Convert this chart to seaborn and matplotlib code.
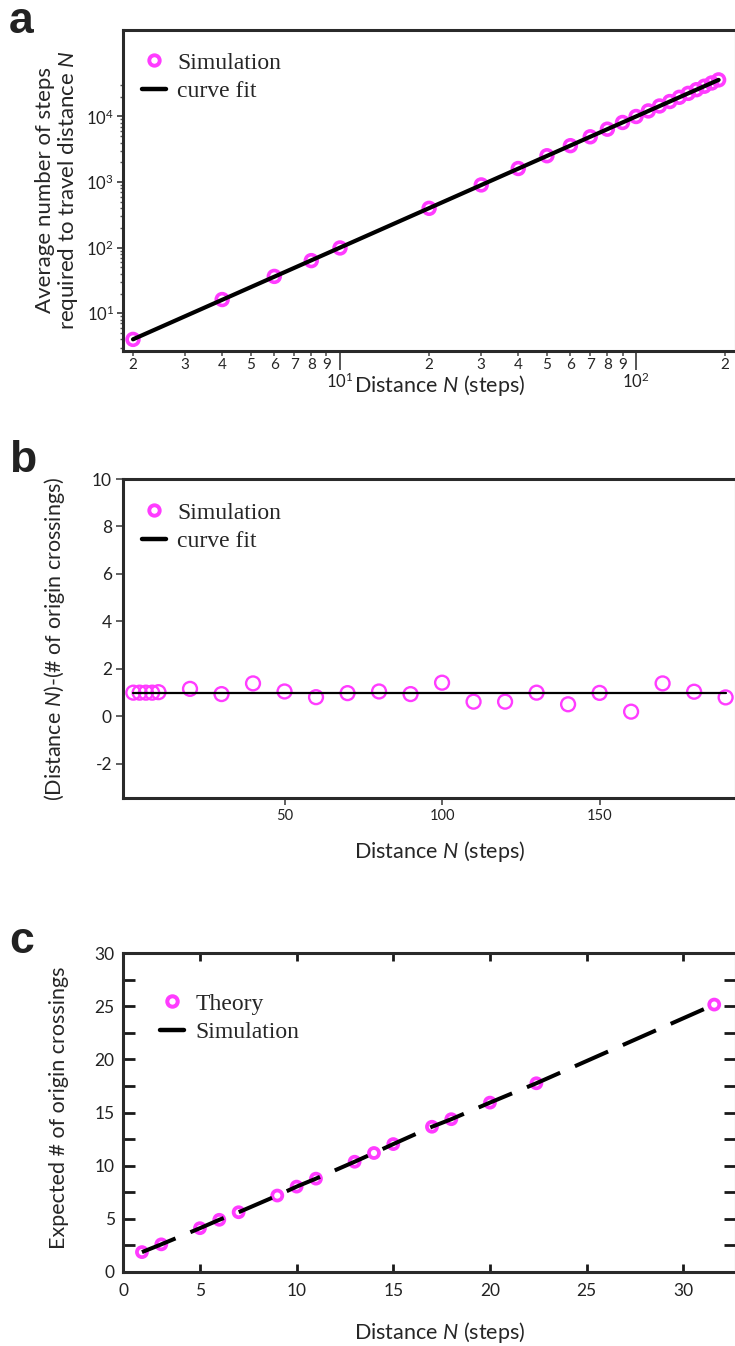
import numpy as np
import pandas as pd
import matplotlib
matplotlib.use("Agg")
import matplotlib.pyplot as plt
import seaborn as sns
from matplotlib import ticker
from matplotlib.lines import Line2D

# ---------------------------------------------------------------- data
# (a) mean number of steps needed to first reach distance N
dist_a = [2, 4, 6, 8, 10, 20, 30, 40, 50, 60, 70, 80, 90, 100,
          110, 120, 130, 140, 150, 160, 170, 180, 190]
mean_steps = [4.0, 16.2, 36.5, 63.5, 99.0, 398, 905, 1610, 2520, 3590, 4900,
              6400, 8100, 9990, 12150, 14450, 16900, 19600, 22500, 25600,
              28900, 32400, 36100]

# (b) distance minus number of origin crossings
dist_b = dist_a
residual = [1.00, 1.00, 1.00, 1.00, 1.02, 1.16, 0.94, 1.39, 1.05, 0.81, 0.98,
            1.05, 0.94, 1.42, 0.62, 0.62, 1.00, 0.51, 0.99, 0.20, 1.39, 1.04,
            0.80]
residual_fit = 1.0

# (c) expected number of origin crossings
dist_c = [2, 3, 5, 6, 7, 9, 10, 11, 13, 14, 15, 17, 18, 20, 22.4, 31.6]
theory = [1.87, 2.60, 4.12, 4.91, 5.62, 7.19, 8.03, 8.78, 10.37, 11.19,
          12.03, 13.66, 14.37, 15.93, 17.75, 25.15]
simulation = [1.87, 2.60, 4.12, 4.91, 5.62, 7.19, 8.03, 8.78, 10.37, 11.19,
              12.03, 13.66, 14.37, 15.93, 17.75, 25.15]

# ---------------------------------------------------------------- style
sns.set_theme(style="ticks")
SANS = "Lato"
plt.rcParams["font.family"] = [SANS, "DejaVu Sans"]
plt.rcParams["mathtext.fontset"] = "custom"
plt.rcParams["mathtext.rm"] = SANS
plt.rcParams["mathtext.it"] = SANS + ":italic"
plt.rcParams["axes.linewidth"] = 2.2
plt.rcParams["axes.edgecolor"] = "#2a2a2a"

MAGENTA = "#ff3cff"
W, H = 735, 1346
fig = plt.figure(figsize=(W / 100, H / 100), dpi=100)


def box(left, top, right, bottom):
    return [left / W, 1 - bottom / H, (right - left) / W, (bottom - top) / H]


ax_a = fig.add_axes(box(123, 30, 735.7, 350.7))
ax_b = fig.add_axes(box(123, 479, 735.7, 798.3))
ax_c = fig.add_axes(box(123, 953, 735.7, 1272))

LABEL_FS = 15.5
XLABEL = r"Distance $\mathit{N}$ (steps)"


def legend(ax, handles, labels, left, top):
    ax.legend(handles, labels, loc="upper left",
              bbox_to_anchor=(left / W, 1 - top / H),
              bbox_transform=fig.transFigure, frameon=False, borderpad=0,
              borderaxespad=0, handlelength=1.0, handletextpad=0.5,
              labelspacing=0.3,
              prop={"family": "Liberation Serif", "size": 17})


def ring(ms=7.5, mew=2.8):
    return Line2D([], [], ls="none", marker="o", ms=ms, mfc="none",
                  mec=MAGENTA, mew=mew)


# ---------------------------------------------------------------- (a)
ax_a.set_xscale("log")
ax_a.set_yscale("log")
sns.scatterplot(x=dist_a, y=mean_steps, ax=ax_a, s=72, marker="o",
                facecolor="none", edgecolor=MAGENTA, linewidth=2.6, zorder=2)
slope, icpt = np.polyfit(np.log10(dist_a), np.log10(mean_steps), 1)
fit_a = pd.DataFrame({"N": dist_a,
                      "fit": 10 ** (icpt + slope * np.log10(dist_a))})
sns.lineplot(data=fit_a, x="N", y="fit", ax=ax_a, color="black",
             linewidth=3.0, zorder=3)
ax_a.set_xlim(1.85, 217)
ax_a.set_ylim(2.69, 2.08e5)

pow_fmt = ticker.FuncFormatter(
    lambda v, p: r"$\mathregular{10^{%d}}$" % int(round(np.log10(v))))
ax_a.xaxis.set_major_locator(ticker.FixedLocator([10, 100]))
ax_a.xaxis.set_major_formatter(pow_fmt)
minor_x = [2, 3, 4, 5, 6, 7, 8, 9, 20, 30, 40, 50, 60, 70, 80, 90, 200]
ax_a.xaxis.set_minor_locator(ticker.FixedLocator(minor_x))
ax_a.xaxis.set_minor_formatter(ticker.FuncFormatter(
    lambda v, p: str(int(round(v / 10 ** np.floor(np.log10(v) + 1e-9))))))
ax_a.yaxis.set_major_locator(ticker.FixedLocator([10, 100, 1000, 10000]))
ax_a.yaxis.set_major_formatter(pow_fmt)
minor_y = [m * 10 ** k for k in range(0, 5) for m in range(2, 10)
           if 2.69 < m * 10 ** k <= 30000]
ax_a.yaxis.set_minor_locator(ticker.FixedLocator(minor_y))
ax_a.yaxis.set_minor_formatter(ticker.NullFormatter())
ax_a.tick_params(axis="x", which="major", direction="out", length=14,
                 width=1.4, color="#555555", pad=1, labelsize=12)
ax_a.tick_params(axis="x", which="minor", direction="out", length=3.5,
                 width=1.2, color="#555555", pad=2, labelsize=11)
ax_a.tick_params(axis="y", which="major", direction="out", length=4.5,
                 width=1.4, color="#555555", pad=2, labelsize=12)
ax_a.tick_params(axis="y", which="minor", direction="out", length=2.5,
                 width=1.0, color="#555555")
ax_a.set_xlabel(XLABEL, fontsize=LABEL_FS)
ax_a.xaxis.set_label_coords(440 / W, 1 - 373 / H, transform=fig.transFigure)
ax_a.set_ylabel("Average number of steps\n"
                r"required to travel distance $\mathit{N}$",
                fontsize=16, linespacing=1.05)
ax_a.yaxis.set_label_coords(80 / W, 1 - 190 / H, transform=fig.transFigure)
legend(ax_a, [ring(), Line2D([], [], color="black", lw=3.2)],
       ["Simulation", "curve fit"], 142, 52)

# ---------------------------------------------------------------- (b)
sns.scatterplot(x=dist_b, y=residual, ax=ax_b, s=100, marker="o",
                facecolor="none", edgecolor=MAGENTA, linewidth=1.7, zorder=2)
fit_b = pd.DataFrame({"N": [dist_b[0], dist_b[-1]],
                      "fit": [residual_fit, residual_fit]})
sns.lineplot(data=fit_b, x="N", y="fit", ax=ax_b, color="black",
             linewidth=1.6, zorder=3)
ax_b.set_xlim(-1.27, 193.2)
ax_b.set_ylim(-3.45, 10)
ax_b.set_xticks([50, 100, 150])
ax_b.set_yticks([-2, 0, 2, 4, 6, 8, 10])
ax_b.set_yticklabels(["-2", "0", "2", "4", "6", "8", "10"])
ax_b.tick_params(axis="x", direction="out", length=5, width=1.3,
                 color="#555555", pad=3, labelsize=10.5)
ax_b.tick_params(axis="y", direction="out", length=5, width=1.3,
                 color="#555555", pad=3, labelsize=12.5)
ax_b.set_xlabel(XLABEL, fontsize=LABEL_FS)
ax_b.xaxis.set_label_coords(440 / W, 1 - 839 / H, transform=fig.transFigure)
ax_b.set_ylabel(r"(Distance $\mathit{N}$)-(# of origin crossings)",
                fontsize=LABEL_FS)
ax_b.yaxis.set_label_coords(67 / W, 1 - 639 / H, transform=fig.transFigure)
legend(ax_b, [ring(), Line2D([], [], color="black", lw=3.2)],
       ["Simulation", "curve fit"], 142, 502)

# ---------------------------------------------------------------- (c)
sns.scatterplot(x=dist_c, y=theory, ax=ax_c, s=52, marker="o",
                facecolor="none", edgecolor=MAGENTA, linewidth=2.7, zorder=2)
sns.lineplot(x=dist_c, y=simulation, ax=ax_c, color="black", linewidth=2.9,
             linestyle=(0, (9, 4)), zorder=3)
ax_c.set_xlim(1.02, 32.71)
ax_c.set_ylim(0, 30)
ax_c.set_xticks([1.02, 5, 10, 15, 20, 25, 30])
ax_c.set_xticklabels(["0", "5", "10", "15", "20", "25", "30"])
ax_c.set_yticks([0, 5, 10, 15, 20, 25, 30])
ax_c.yaxis.set_minor_locator(ticker.FixedLocator([2.5, 7.5, 12.5, 17.5,
                                                  22.5, 27.5]))
ax_c.tick_params(axis="x", which="major", direction="in", length=6,
                 width=2.0, color="#1a1a1a", top=True, pad=8, labelsize=12.5)
ax_c.tick_params(axis="y", which="both", direction="in", length=8.5,
                 width=2.0, color="#1a1a1a", right=True, pad=6,
                 labelsize=12.5)
ax_c.set_xlabel(XLABEL, fontsize=LABEL_FS)
ax_c.xaxis.set_label_coords(440 / W, 1 - 1320 / H, transform=fig.transFigure)
ax_c.set_ylabel("Expected # of origin crossings", fontsize=LABEL_FS)
ax_c.yaxis.set_label_coords(69 / W, 1 - 1108 / H, transform=fig.transFigure)
legend(ax_c, [ring(ms=7.5, mew=2.9),
              Line2D([], [], color="black", lw=3.2)],
       ["Theory", "Simulation"], 160, 993)

for ax in (ax_a, ax_b, ax_c):
    for side in ("left", "right", "top", "bottom"):
        ax.spines[side].set_visible(True)
    ax.tick_params(labelcolor="#222222")

# panel letters
for letter, base in (("a", 33), ("b", 472), ("c", 953)):
    fig.text(9 / W, 1 - base / H, letter, fontsize=32, fontweight="bold",
             family="Liberation Sans", color="#222222", va="baseline",
             ha="left")

fig.savefig("out.png", dpi=100)
